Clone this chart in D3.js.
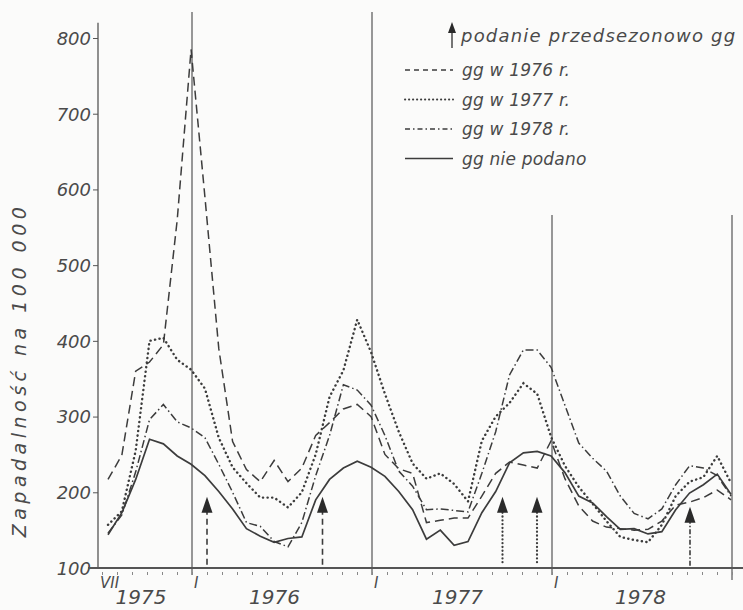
<!DOCTYPE html>
<html>
<head>
<meta charset="utf-8">
<script src="https://cdn.jsdelivr.net/npm/d3@7"></script>
<style>
  body { margin: 0; background: #fbfbfa; }
  text { font-family: "DejaVu Sans", sans-serif; font-style: italic; fill: #4a4a4a; }
</style>
</head>
<body>
<script>
var width = 743
var height = 610

// 4-week periods, first one just after VII 1975
var periods = d3.range(46)

var s1976 = [217, 249, 360, 372, 395, 560, 785, 590, 390, 267, 230, 214, 242, 214, 232, 275,
  292, 310, 316, 300, 250, 231, 225, 160, 163, 166, 166, 195, 225, 240, 236, 232, 268, 218,
  182, 162, 154, 152, 150, 151, 162, 183, 187, 193, 203, 190]
var s1977 = [157, 175, 255, 400, 404, 375, 362, 337, 272, 233, 212, 193, 193, 180, 200, 250,
  326, 361, 428, 385, 330, 280, 238, 218, 225, 211, 188, 268, 300, 318, 344, 330, 273, 235,
  207, 185, 162, 141, 137, 134, 157, 195, 214, 220, 248, 212]
var s1978 = [146, 170, 227, 296, 316, 293, 285, 272, 237, 200, 160, 155, 135, 128, 160, 222,
  275, 342, 335, 315, 275, 228, 208, 177, 178, 176, 174, 225, 280, 355, 388, 388, 365, 315,
  265, 245, 228, 195, 172, 165, 178, 210, 235, 232, 222, 195]
var sNone = [144, 173, 217, 270, 264, 248, 237, 222, 201, 178, 152, 142, 134, 139, 141, 190,
  217, 232, 241, 233, 221, 201, 177, 138, 150, 130, 135, 173, 201, 239, 252, 254, 248, 226,
  195, 186, 168, 151, 152, 145, 148, 177, 199, 210, 224, 197]

var yTicks = [100, 200, 300, 400, 500, 600, 700, 800]
var monthLabels = [{ m: 0, t: 'VII' }, { m: 6, t: 'I' }, { m: 18, t: 'I' }, { m: 30, t: 'I' }]
var yearLabels = [{ m: 2.6, t: '1975' }, { m: 11.5, t: '1976' }, { m: 23.7, t: '1977' }, { m: 35.9, t: '1978' }]
var yearLines = [6, 18, 30, 42]
// vaccination times (month from VII 1975) and which series they belong to
var arrowMonths = [7.0, 14.7, 26.7, 29.0, 39.2]
var arrowSeries = ['1976', '1976', '1977', '1977', '1978']

var legendText = ['gg w 1976 r.', 'gg w 1977 r.', 'gg w 1978 r.', 'gg nie podano']

var series = [
  { key: '1976', values: s1976, dash: '9,5', w: 1.5 },
  { key: '1977', values: s1977, dash: '0.2,4.4', w: 2.4 },
  { key: '1978', values: s1978, dash: '8,3,1.5,3', w: 1.5 },
  { key: 'none', values: sNone, dash: null, w: 1.7 }
]

var ink = '#3c3c3c'

var x = d3.scaleLinear().domain([0, 42]).range([102, 732])
var y = d3.scaleLinear().domain([100, 800]).range([568, 38])
var px = function (i) { return x(0.4 + i * 12 / 13) }

var svg = d3.select('body').append('svg')
  .attr('width', width)
  .attr('height', height)

// year separators
svg.selectAll('line.year')
  .data(yearLines)
  .enter().append('line')
  .attr('class', 'year')
  .attr('x1', function (d) { return x(d) })
  .attr('x2', function (d) { return x(d) })
  .attr('y1', function (d) { return d < 30 ? 12 : 215 })
  .attr('y2', function (d) { return d === 42 ? 580 : 575 })
  .style('stroke', '#555')
  .style('stroke-width', 1.2)

// y axis
var yAxis = d3.axisLeft(y).tickValues(yTicks).tickSize(5).tickPadding(2)
var gy = svg.append('g').attr('transform', 'translate(98,0)').call(yAxis)
gy.select('.domain').attr('d', 'M0,' + y(820) + 'V' + y(100)).style('stroke', '#555').style('stroke-width', 1.3)
gy.selectAll('.tick line').style('stroke', '#555')
gy.selectAll('.tick text').style('font-size', '18px').attr('dy', '0.35em')

// x axis with monthly ticks
var xAxis = d3.axisBottom(x).tickValues(d3.range(0, 43)).tickSize(3).tickFormat('')
var gx = svg.append('g').attr('transform', 'translate(0,568)').call(xAxis)
gx.select('.domain').attr('d', 'M88,0H743').style('stroke', '#555').style('stroke-width', 2.2)
gx.selectAll('.tick line').attr('y1', 4).attr('y2', 7).style('stroke', '#888')

svg.selectAll('text.month')
  .data(monthLabels)
  .enter().append('text')
  .attr('x', function (d) { return x(d.m) + (d.m === 0 ? -2 : 2) })
  .attr('y', 588)
  .style('font-size', '15px')
  .text(function (d) { return d.t })

svg.selectAll('text.yearlab')
  .data(yearLabels)
  .enter().append('text')
  .attr('x', function (d) { return x(d.m) })
  .attr('y', 604)
  .attr('text-anchor', 'middle')
  .style('font-size', '20px')
  .text(function (d) { return d.t })

svg.append('text')
  .attr('transform', 'translate(26,370) rotate(-90)')
  .attr('text-anchor', 'middle')
  .style('font-size', '19px')
  .style('letter-spacing', '4.5px')
  .text('Zapadalność na 100 000')

// series lines
var line = d3.line()
  .x(function (d, i) { return px(i) })
  .y(function (d) { return y(d) })

svg.selectAll('path.series')
  .data(series)
  .enter().append('path')
  .attr('class', 'series')
  .attr('d', function (d) { return line(d.values) })
  .style('fill', 'none')
  .style('stroke', ink)
  .style('stroke-width', function (d) { return d.w })
  .style('stroke-dasharray', function (d) { return d.dash })
  .style('stroke-linecap', function (d) { return d.key === '1977' ? 'round' : 'butt' })

// vaccination arrows
var styleOf = {}
series.forEach(function (s) { styleOf[s.key] = s })

function arrow (g, cx, tipY, baseY, s) {
  g.append('line')
    .attr('x1', cx).attr('x2', cx)
    .attr('y1', tipY + 12).attr('y2', baseY)
    .style('stroke', ink)
    .style('stroke-width', s.key === '1977' ? 2.2 : 1.6)
    .style('stroke-linecap', s.key === '1977' ? 'round' : 'butt')
    .style('stroke-dasharray', s.key === '1978' ? '5,2,1.5,2' : (s.key === '1977' ? '0.2,3.6' : '6,4'))
  g.append('path')
    .attr('d', 'M' + cx + ',' + tipY + 'L' + (cx - 5.5) + ',' + (tipY + 16) + 'L' + (cx + 5.5) + ',' + (tipY + 16) + 'Z')
    .style('fill', '#2a2a2a')
}

var ga = svg.append('g')
arrowMonths.forEach(function (m, i) {
  arrow(ga, x(m), y(i === 4 ? 181 : 194), y(103), styleOf[arrowSeries[i]])
})

// legend
var lg = svg.append('g')
lg.append('line').attr('x1', 452).attr('x2', 452).attr('y1', 30).attr('y2', 48)
  .style('stroke', ink).style('stroke-width', 1.4)
lg.append('path').attr('d', 'M452,22L448,33L456,33Z').style('fill', '#2a2a2a')
lg.append('text').attr('x', 461).attr('y', 42).style('font-size', '18px')
  .style('letter-spacing', '1.2px').text('podanie przedsezonowo gg')

series.forEach(function (s, i) {
  var ly = 70 + i * 29.5
  lg.append('line')
    .attr('x1', 405).attr('x2', 453)
    .attr('y1', ly).attr('y2', ly)
    .style('stroke', ink)
    .style('stroke-width', s.key === '1977' ? 2 : 1.4)
    .style('stroke-dasharray', s.key === '1977' ? '0.2,3.8' : (s.key === '1978' ? '5,3,1.5,3' : (s.dash ? '5,4' : null)))
    .style('stroke-linecap', s.key === '1977' ? 'round' : 'butt')
  lg.append('text')
    .attr('x', 462).attr('y', ly + 6)
    .style('font-size', '17px')
    .style('letter-spacing', '0.2px')
    .text(legendText[i])
})
</script>
</body>
</html>
